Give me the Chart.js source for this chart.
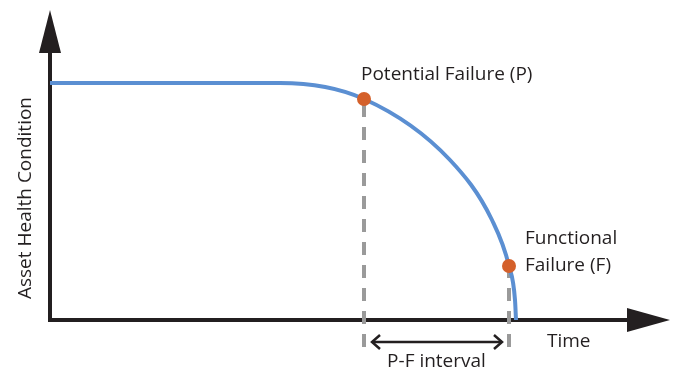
<!DOCTYPE html>
<html>
<head>
<meta charset="utf-8">
<script src="https://cdn.jsdelivr.net/npm/chart.js@4.4.1/dist/chart.umd.min.js"></script>
<style>
  html, body { margin: 0; padding: 0; background: #ffffff; }
  #wrap { width: 680px; height: 383px; position: relative; }
</style>
</head>
<body>
<div id="wrap"><canvas id="c"></canvas></div>
<script>
// Asset condition curve (time, condition)
const curveTime      = [0, 230, 314, 400, 442, 459, 465, 466];
const curveCondition = [237, 237, 221, 160, 100, 54, 20, 0];

// Marked failure points
const markerLabels    = ['Potential Failure (P)', 'Functional Failure (F)'];
const markerTime      = [314, 459];
const markerCondition = [221, 54];

// Axis extents and texts
const axisTimeEnd      = 620;
const axisConditionEnd = 310;
const xAxisTitle = 'Time';
const yAxisTitle = 'Asset Health Condition';
const intervalLabel = 'P-F interval';
const dropBottom = -27;

const INK = '#231f20';
const FONT = '"Open Sans", sans-serif';

const curveData = curveTime.map((t, i) => ({ x: t, y: curveCondition[i] }));
const markerData = markerTime.map((t, i) => ({ x: t, y: markerCondition[i] }));
const dropData = markerTime.map((t, i) => [{ x: t, y: dropBottom }, { x: t, y: markerCondition[i] }]);

const diagram = {
  id: 'diagram',
  beforeDatasetsDraw(chart) {
    const { ctx, scales: { x, y } } = chart;
    const x0 = x.getPixelForValue(0), y0 = y.getPixelForValue(0);
    const xEnd = x.getPixelForValue(axisTimeEnd), yEnd = y.getPixelForValue(axisConditionEnd);
    ctx.save();
    ctx.strokeStyle = INK; ctx.fillStyle = INK; ctx.lineWidth = 4; ctx.lineCap = 'butt';
    // y axis
    ctx.beginPath(); ctx.moveTo(x0, y0 + 2); ctx.lineTo(x0, yEnd + 40); ctx.stroke();
    ctx.beginPath(); ctx.moveTo(x0, yEnd); ctx.lineTo(x0 - 11, yEnd + 43); ctx.lineTo(x0 + 11, yEnd + 43); ctx.closePath(); ctx.fill();
    // x axis
    ctx.beginPath(); ctx.moveTo(x0 - 2, y0); ctx.lineTo(xEnd - 40, y0); ctx.stroke();
    ctx.beginPath(); ctx.moveTo(xEnd, y0); ctx.lineTo(xEnd - 43, y0 - 12); ctx.lineTo(xEnd - 43, y0 + 12); ctx.closePath(); ctx.fill();
    ctx.restore();
  },
  afterDatasetsDraw(chart) {
    const { ctx, scales: { x, y } } = chart;
    const pX = x.getPixelForValue(markerTime[0]), pY = y.getPixelForValue(markerCondition[0]);
    const fX = x.getPixelForValue(markerTime[1]), fY = y.getPixelForValue(markerCondition[1]);
    const y0 = y.getPixelForValue(0);
    ctx.save();
    ctx.fillStyle = INK;
    ctx.font = '19px ' + FONT;
    ctx.textBaseline = 'middle';
    ctx.textAlign = 'left';
    ctx.fillText(markerLabels[0], pX - 3, pY - 24);
    const fParts = ['Functional', 'Failure (F)'];
    ctx.fillText(fParts[0], fX + 16, fY - 27);
    ctx.fillText(fParts[1], fX + 16, fY);
    ctx.fillText(xAxisTitle, x.getPixelForValue(497), y0 + 22);
    ctx.textAlign = 'center';
    ctx.fillText(intervalLabel, (pX + fX) / 2, y0 + 42);
    // rotated y title
    ctx.save();
    ctx.translate(26, y.getPixelForValue(122));
    ctx.rotate(-Math.PI / 2);
    ctx.fillText(yAxisTitle, 0, 0);
    ctx.restore();
    // double arrow
    const ay = y0 + 22, l = pX + 8, r = fX - 7;
    ctx.strokeStyle = INK; ctx.lineWidth = 2.5; ctx.lineJoin = 'miter';
    ctx.beginPath(); ctx.moveTo(l, ay); ctx.lineTo(r, ay); ctx.stroke();
    ctx.beginPath(); ctx.moveTo(l + 8, ay - 7); ctx.lineTo(l, ay); ctx.lineTo(l + 8, ay + 7); ctx.stroke();
    ctx.beginPath(); ctx.moveTo(r - 8, ay - 7); ctx.lineTo(r, ay); ctx.lineTo(r - 8, ay + 7); ctx.stroke();
    ctx.restore();
  }
};

new Chart(document.getElementById('c'), {
  type: 'scatter',
  data: {
    datasets: [
      { label: 'markers', data: markerData, pointRadius: 7, pointHoverRadius: 7,
        backgroundColor: '#d4602a', borderWidth: 0, showLine: false, order: 0 },
      { label: 'condition', data: curveData, showLine: true, borderColor: '#5b8fd2',
        borderWidth: 4, pointRadius: 0, cubicInterpolationMode: 'monotone', order: 1 },
      { label: 'P drop', data: dropData[0], showLine: true, borderColor: '#9a9a9a',
        borderWidth: 4, borderDash: [13, 10], pointRadius: 0, order: 2 },
      { label: 'F drop', data: dropData[1], showLine: true, borderColor: '#9a9a9a',
        borderWidth: 4, borderDash: [13, 10], pointRadius: 0, order: 2 }
    ]
  },
  options: {
    responsive: true,
    maintainAspectRatio: false,
    animation: false,
    layout: { padding: 0, autoPadding: false },
    plugins: { legend: { display: false }, tooltip: { enabled: false } },
    scales: {
      x: { type: 'linear', min: -50, max: 630, display: false },
      y: { type: 'linear', min: -63, max: 320, display: false }
    }
  },
  plugins: [diagram]
});
</script>
</body>
</html>
